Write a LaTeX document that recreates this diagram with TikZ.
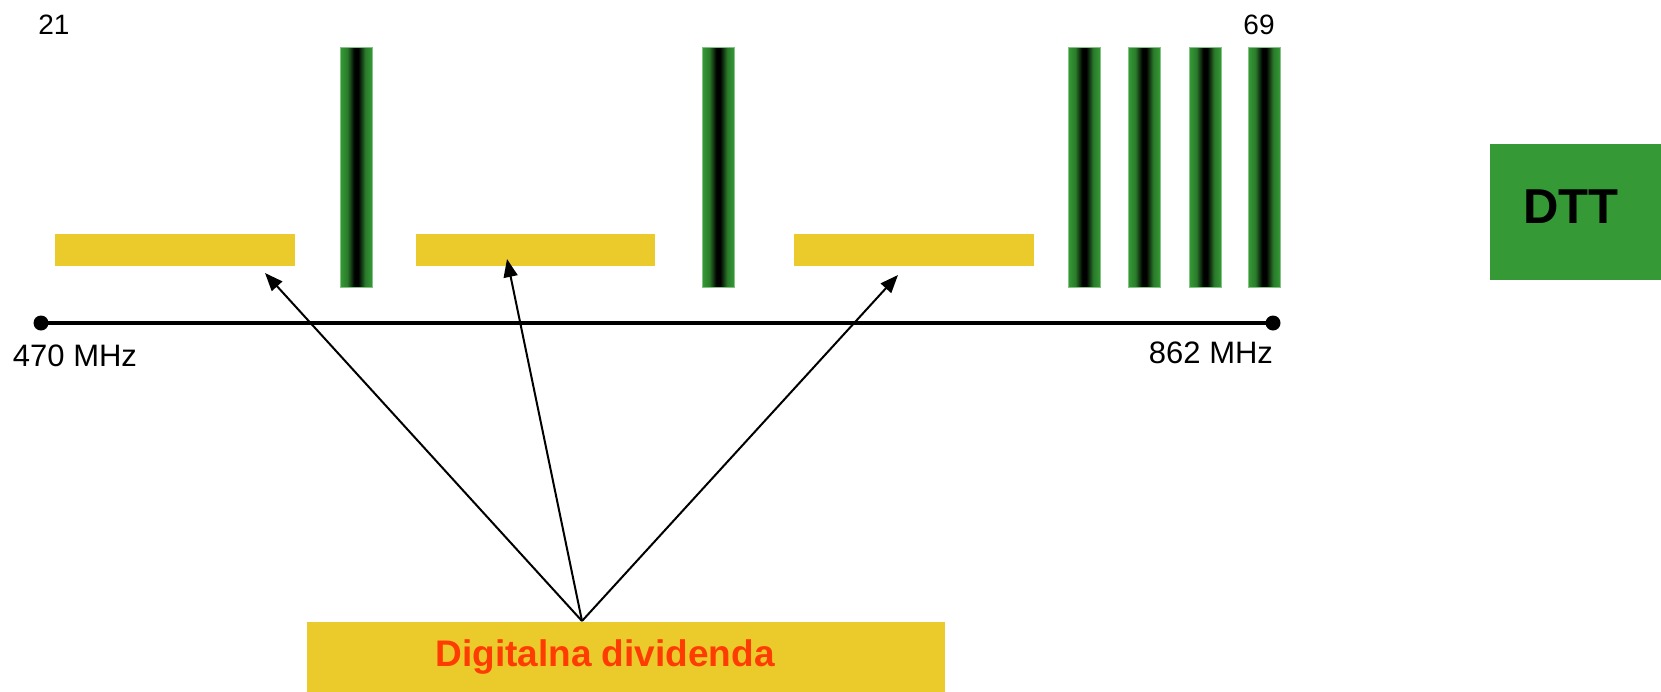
\documentclass[tikz,border=0pt]{standalone}
\usepackage{fontspec}
\setmainfont{Liberation Sans}
\usetikzlibrary{arrows.meta,calc}
\definecolor{ygold}{HTML}{EBCB2B}
\definecolor{dgreen}{HTML}{359A35}
\definecolor{ored}{HTML}{FF3C00}
\pgfdeclarehorizontalshading{chanshade}{100bp}{color(0bp)=(dgreen); color(25bp)=(dgreen); color(36bp)=(dgreen!80!black); color(47bp)=(black); color(53bp)=(black); color(64bp)=(dgreen!80!black); color(75bp)=(dgreen); color(100bp)=(dgreen)}
\begin{document}
\begin{tikzpicture}[x=1pt,y=-1pt,
 ybar/.style={fill=ygold, inner sep=0, minimum width=240pt, minimum height=32pt, anchor=north west},
 gbar/.style={inner sep=0, minimum width=32pt, minimum height=240pt, anchor=north west,
   shading=chanshade, draw=dgreen!60!white, line width=0.6pt},
 lbl/.style={font=\fontsize{28}{32}\selectfont, inner sep=0},
 flbl/.style={font=\fontsize{31}{35}\selectfont, inner sep=0},
 dot/.style={circle, fill=black, inner sep=0, minimum size=15pt},
 arr/.style={line width=2pt, -{Triangle[length=18pt,width=14pt]}}
]
\useasboundingbox (0,0) rectangle (1661,691);
% yellow bands
\node[ybar] (y1) at (55,234) {};
\node[ybar, minimum width=239pt] (y2) at (416,234) {};
\node[ybar] (y3) at (794,234) {};
% green channels
\node[gbar] (g1) at (340,47) {};
\node[gbar] (g2) at (702,47) {};
\node[gbar] (g3) at (1068,47) {};
\node[gbar] (g4) at (1128,47) {};
\node[gbar] (g5) at (1189,47) {};
\node[gbar] (g6) at (1248,47) {};
% frequency axis
\node[dot] (L) at (41,323) {};
\node[dot] (R) at (1273,323) {};
\draw[line width=4pt] (L.center) -- (R.center);
% labels
\node[lbl] (n21) at (54,25) {21};
\node[lbl] (n69) at (1259,25) {69};
\node[flbl] (f470) at (75,356) {470 MHz};
\node[flbl] (f862) at (1211,353) {862 MHz};
% DTT box
\node[fill=dgreen, inner sep=0, minimum width=171pt, minimum height=136pt, anchor=north west] (dttbox) at (1490,144) {};
\node[font=\fontsize{49}{54}\selectfont\bfseries, inner sep=0] (dtt) at (1571,207) {DTT};
% digital dividend box
\node[fill=ygold, inner sep=0, minimum width=638pt, minimum height=75pt, anchor=north west] (dd) at (307,622) {};
\node[font=\fontsize{37}{41}\selectfont\bfseries, text=ored, inner sep=0, anchor=base] (ddtxt) at (605,666) {Digitalna dividenda};
% arrows
\coordinate (apex) at ($(dd.north west)+(275,-1)$);
\coordinate (t1) at (265,273);
\coordinate (t2) at (507,259);
\coordinate (t3) at (898,275);
\draw[arr] (apex) -- (t1);
\draw[arr] (apex) -- (t2);
\draw[arr] (apex) -- (t3);
\end{tikzpicture}
\end{document}
